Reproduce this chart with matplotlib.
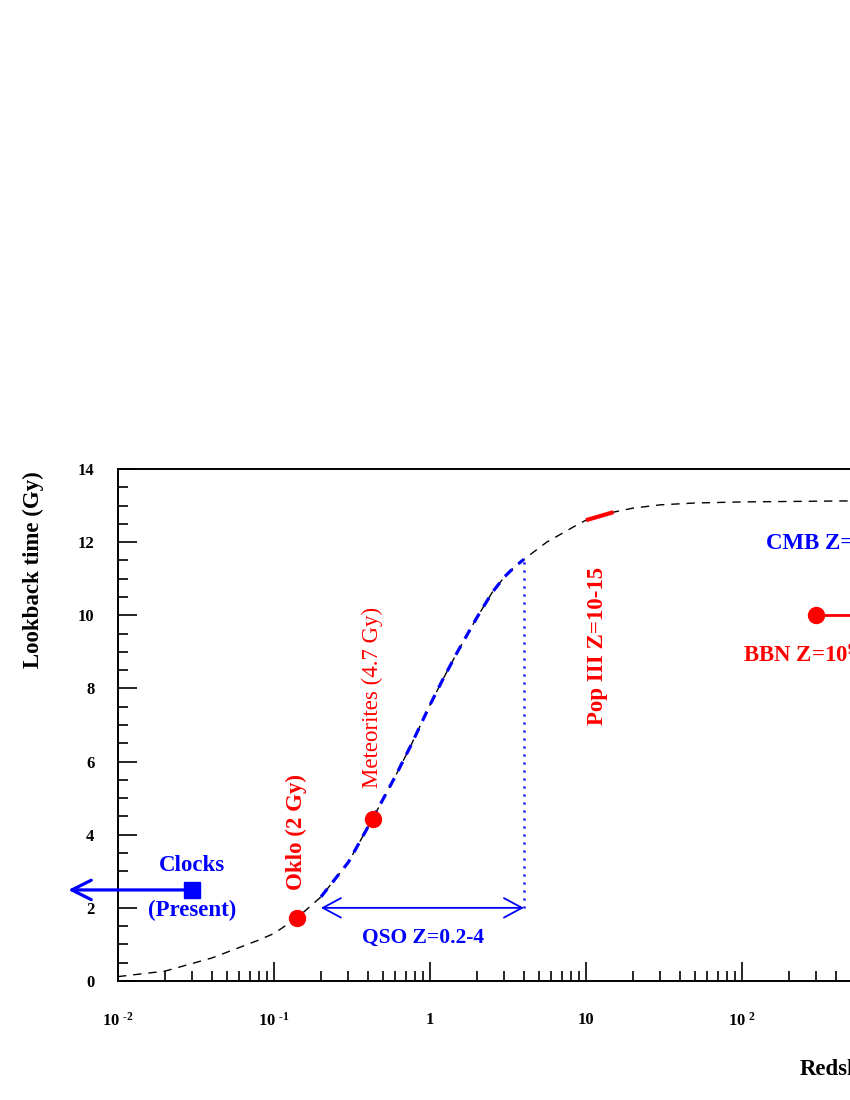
import numpy as np
import matplotlib
matplotlib.use('Agg')
import matplotlib.pyplot as plt
from matplotlib.ticker import FixedLocator, LogLocator, MultipleLocator, NullFormatter

# ── Data ─────────────────────────────────────────────────────
Z_CURVE = [0.01, 0.02, 0.04, 0.08, 0.1, 0.14, 0.2, 0.3, 0.43, 0.6, 0.75,
           1.0, 1.2, 1.5, 2.0, 2.5, 3.0, 3.5, 4.0, 5.6, 9.0, 10, 15, 20,
           30, 50, 100, 1000, 10000]
T_CURVE = [0.12, 0.27, 0.63, 1.12, 1.3, 1.72, 2.3, 3.25, 4.45, 5.6, 6.42,
           7.55, 8.22, 9.0, 9.94, 10.62, 11.05, 11.33, 11.53, 12.0, 12.5, 12.6, 12.82, 12.93,
           13.02, 13.07, 13.1, 13.14, 13.15]

QSO_RANGE   = (0.2, 4.0)
POP3_RANGE  = (10, 15)
QSO_ARROW_T = 2.0

OKLO_Z, OKLO_T = 0.14, 1.72
METEOR_Z, METEOR_T = 0.43, 4.42
CLOCK_Z, CLOCK_T, CLOCK_END_Z = 0.03, 2.49, 0.0048
BBN_Z, BBN_T, BBN_END_Z = 300, 10.0, 10000

HY = '\u2010'
XTICKS = [1e-2, 1e-1, 1, 10, 1e2, 1e3, 1e4]
XTICK_LABELS = [r'$10^{\ ' + HY + '2}$', r'$10^{\ ' + HY + '1}$', '1', '10',
                r'$10^{\ 2}$', r'$10^{\ 3}$', r'$10^{\ 4}$']

# ── Style ────────────────────────────────────────────────────
plt.rcParams['font.family'] = ['Liberation Serif', 'DejaVu Serif']
plt.rcParams['font.weight'] = 'bold'
plt.rcParams['axes.labelweight'] = 'bold'
plt.rcParams['mathtext.fontset'] = 'custom'
plt.rcParams['mathtext.rm'] = 'Liberation Serif:bold'
plt.rcParams['mathtext.bf'] = 'Liberation Serif:bold'
plt.rcParams['mathtext.default'] = 'bf'

fig = plt.figure(figsize=(8.5, 11), dpi=100)
# axes run off the right edge of the page, as in the reference
ax = fig.add_axes([118 / 850, 119 / 1100, 936 / 850, 512 / 1100])

z = np.array(Z_CURVE)
t = np.array(T_CURVE)

ax.plot(z, t, color='black', lw=1.0, linestyle=(0, (6, 5)))

m = (z >= QSO_RANGE[0]) & (z <= QSO_RANGE[1])
ax.plot(z[m], t[m], color='blue', lw=2.3, linestyle=(0, (3.2, 2.6)))

m = (z >= POP3_RANGE[0]) & (z <= POP3_RANGE[1])
ax.plot(z[m], t[m], color='red', lw=3.0, solid_capstyle='butt')

# QSO range
t_qso_end = t[z == QSO_RANGE[1]][0]
ax.plot([QSO_RANGE[1], QSO_RANGE[1]], [QSO_ARROW_T, t_qso_end], color='blue',
        lw=1.8, linestyle=(0, (0.8, 2.4)))
ax.annotate('', xy=(QSO_RANGE[0], QSO_ARROW_T), xytext=(QSO_RANGE[1], QSO_ARROW_T),
            arrowprops=dict(arrowstyle='<->,head_length=0.65,head_width=0.35',
                            color='blue', lw=1.3, mutation_scale=20,
                            shrinkA=0, shrinkB=0))
ax.text(0.9, 1.18, 'QSO Z=0.2-4', color='blue', fontsize=15.5,
        ha='center', va='center')

# points
ax.plot([OKLO_Z, METEOR_Z], [OKLO_T, METEOR_T], 'o', color='red', ms=11.5, zorder=5)
ax.text(OKLO_Z, 2.5, 'Oklo (2 Gy)', color='red', fontsize=16.5, rotation=90,
        ha='center', va='bottom')
ax.text(METEOR_Z, 5.28, 'Meteorites (4.7 Gy)', color='red', fontsize=16.5,
        fontweight='normal', rotation=90, ha='center', va='bottom')
ax.text(11.9, 7.0, 'Pop III Z=10-15', color='red', fontsize=16.5, rotation=90,
        ha='center', va='bottom')

# clocks
ann = ax.annotate('', xy=(CLOCK_END_Z, CLOCK_T), xytext=(CLOCK_Z, CLOCK_T),
                  annotation_clip=False,
                  arrowprops=dict(arrowstyle='->,head_length=0.7,head_width=0.35',
                                  color='blue', lw=2.3, mutation_scale=20,
                                  shrinkA=0, shrinkB=0))
ann.arrow_patch.set_clip_on(False)
ax.plot([CLOCK_Z], [CLOCK_T], 's', color='blue', ms=11.5, zorder=5)
ax.text(CLOCK_Z, 3.17, 'Clocks', color='blue', fontsize=16.5, ha='center', va='center')
ax.text(CLOCK_Z, 1.94, '(Present)', color='blue', fontsize=16.5, ha='center', va='center')

# CMB / BBN (run off the page edge like the reference)
ax.text(142, 11.95, 'CMB Z=1100', color='blue', fontsize=16.5, ha='left', va='center')
ax.plot([BBN_Z, BBN_END_Z], [BBN_T, BBN_T], color='red', lw=2.0)
ax.plot([BBN_Z], [BBN_T], 'o', color='red', ms=11.5, zorder=5)
ax.text(101, 8.9, r'BBN Z=10$^{9}$', color='red', fontsize=16.5, ha='left', va='center')

# ── Axes ─────────────────────────────────────────────────────
ax.set_xscale('log')
ax.set_xlim(1e-2, 1e4)
ax.set_ylim(0, 14)

ax.xaxis.set_major_locator(FixedLocator(XTICKS))
ax.set_xticklabels(XTICK_LABELS)
ax.xaxis.set_minor_locator(LogLocator(base=10, subs=np.arange(2, 10), numticks=50))
ax.xaxis.set_minor_formatter(NullFormatter())
ax.yaxis.set_major_locator(MultipleLocator(2))
ax.yaxis.set_minor_locator(MultipleLocator(0.5))

ax.tick_params(axis='both', which='both', direction='in', top=False, right=False,
               width=1.2, labelsize=12)
ax.tick_params(axis='both', which='major', length=13.5)
ax.tick_params(axis='both', which='minor', length=7)
ax.tick_params(axis='x', which='major', pad=22)
ax.tick_params(axis='y', which='major', pad=17)

for sp in ax.spines.values():
    sp.set_linewidth(1.4)

ax.set_ylabel('Lookback time (Gy)', fontsize=16.5, fontweight='bold')
ax.yaxis.set_label_coords(-0.079, 0.803)
ax.set_xlabel('Redshift', fontsize=16.5, fontweight='bold', ha='left')
ax.xaxis.set_label_coords(0.7286, -0.152)

fig.savefig('out.png', dpi=100)
